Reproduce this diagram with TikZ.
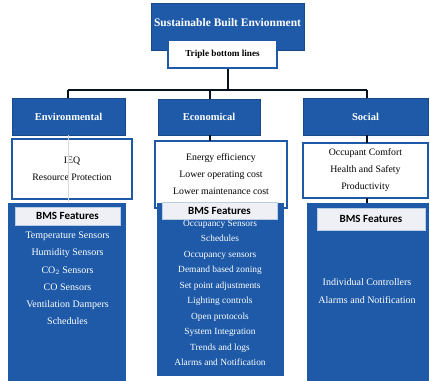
\documentclass[tikz,border=0pt]{standalone}
\usepackage{fontspec}
\setmainfont{Liberation Serif}
\newfontfamily\hdfont{Carlito}
\definecolor{bmsblue}{RGB}{30,90,168}
\definecolor{hdfill}{RGB}{238,240,246}
\begin{document}
\begin{tikzpicture}[x=1pt,y=-1pt,
  bluebox/.style={draw=bmsblue!80!black,line width=0.5pt,fill=bmsblue,inner sep=0pt,text=white,font=\bfseries\fontsize{10.5}{12}\selectfont},
  whitebox/.style={draw=bmsblue,line width=1.6pt,fill=white,inner sep=0pt,align=center,font=\fontsize{9.8}{17}\selectfont},
  featbox/.style={draw=bmsblue,line width=0.5pt,fill=bmsblue,inner sep=0pt},
  hdbox/.style={draw=bmsblue!30,line width=0.4pt,fill=hdfill,inner sep=0pt,font=\hdfont\bfseries\fontsize{11}{13}\selectfont},
  ftext/.style={text=white,align=center,inner sep=0pt},
  conn/.style={draw=black!80!bmsblue,line width=1.2pt}]
\useasboundingbox (0,0) rectangle (430,380);
% top
\node[bluebox,minimum width=153pt,minimum height=47pt] (top) at (227.5,27) {};
\node[text=white,font=\bfseries\fontsize{11.5}{13}\selectfont,inner sep=0pt] (toplbl) at (227.5,23) {Sustainable Built Envionment};
% connectors
\coordinate (jt) at (228,90);
\coordinate (jl) at (68,90);
\coordinate (jr) at (367,90);
\coordinate (jm) at (210,90);
\draw[conn] (228,68) -- (jt);
\draw[conn] (jl) -- (jr);
\node[bluebox,minimum width=113pt,minimum height=37pt] (env) at (68.5,116.5) {Environmental};
\node[bluebox,minimum width=102pt,minimum height=36pt] (eco) at (209,117) {Economical};
\node[bluebox,minimum width=125pt,minimum height=37pt] (soc) at (365.5,116.5) {Social};
\draw[conn] (jl) -- (jl |- env.north);
\draw[conn] (jm) -- (jm |- eco.north);
\draw[conn] (jr) -- (jr |- soc.north);
% text boxes
\node[whitebox,minimum width=120pt,minimum height=60pt] (envt) at (72,169) {IEQ\\Resource Protection};
\node[whitebox,minimum width=132pt,minimum height=67pt] (ecot) at (221,174.5) {Energy efficiency\\Lower operating cost\\Lower maintenance cost};
\node[whitebox,minimum width=125pt,minimum height=55pt] (soct) at (365.5,170.5) {Occupant Comfort\\Health and Safety\\Productivity};
\draw[draw=gray!30,line width=0.4pt] (68,135) -- (68,202);
\draw[conn] (210,135) -- (210,141);
\draw[conn] (367,135) -- (367,143);
\draw[conn] (367,198) -- (367,204);
% triple
\node[whitebox,line width=1.3pt,minimum width=109pt,minimum height=28pt,font=\bfseries\fontsize{9.2}{11}\selectfont] (tri) at (222.5,54) {Triple bottom lines};
% BMS boxes
\node[featbox,minimum width=117pt,minimum height=177pt] (envb) at (66.5,291.5) {};
\node[featbox,minimum width=126pt,minimum height=172pt] (ecob) at (220,289) {};
\node[featbox,minimum width=121pt,minimum height=177pt] (socb) at (367.5,291.5) {};
\node[hdbox,minimum width=105pt,minimum height=18pt] (envh) at (67.5,216) {BMS Features};
\node[hdbox,minimum width=115pt,minimum height=17pt] (ecoh) at (219.5,210.5) {BMS Features};
\node[hdbox,minimum width=108pt,minimum height=22pt] (soch) at (371,219) {BMS Features};
\node[ftext,font=\fontsize{10}{17.1}\selectfont,anchor=north] (envl) at (67.5,232) {Temperature Sensors\\Humidity Sensors\\CO$_2$ Sensors\\CO Sensors\\Ventilation Dampers\\Schedules};
\node[ftext,font=\fontsize{9.4}{15.5}\selectfont,anchor=north] (ecol) at (220,220) {Occupancy Sensors\\Schedules\\Occupancy sensors\\Demand based zoning\\Set point adjustments\\Lighting controls\\Open protocols\\System Integration\\Trends and logs\\Alarms and Notification};
\node[ftext,font=\fontsize{10}{18}\selectfont] (socl) at (367,291) {Individual Controllers\\Alarms and Notification};
\end{tikzpicture}
\end{document}
